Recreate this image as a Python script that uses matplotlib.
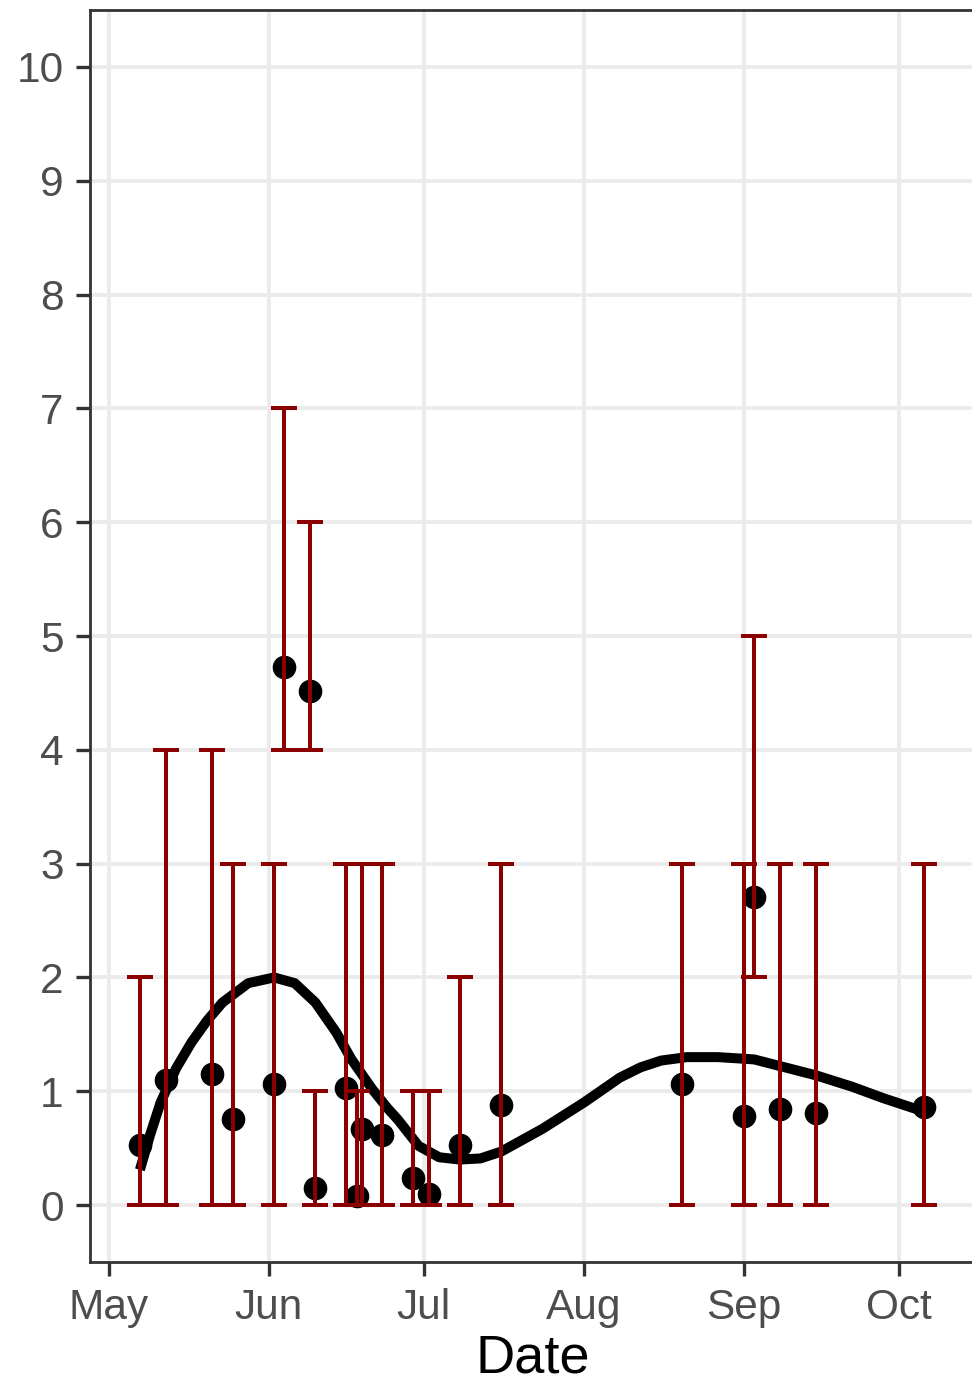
import matplotlib
matplotlib.use("Agg")
import matplotlib.pyplot as plt
import matplotlib.dates as mdates
import pandas as pd

# observations: date, mean, interval
obs_dates = ["2020-05-07", "2020-05-12", "2020-05-21", "2020-05-25", "2020-06-02",
             "2020-06-04", "2020-06-09", "2020-06-10", "2020-06-16", "2020-06-18",
             "2020-06-19", "2020-06-23", "2020-06-29", "2020-07-02", "2020-07-08",
             "2020-07-16", "2020-08-20", "2020-09-01", "2020-09-03", "2020-09-08",
             "2020-09-15", "2020-10-06"]
obs_mean = [0.53, 1.10, 1.15, 0.76, 1.06, 4.73, 4.52, 0.15, 1.03, 0.08,
            0.67, 0.62, 0.24, 0.10, 0.53, 0.88, 1.06, 0.78, 2.71, 0.84,
            0.81, 0.86]
obs_low = [0, 0, 0, 0, 0, 4, 4, 0, 0, 0, 0, 0, 0, 0, 0, 0, 0, 0, 2, 0, 0, 0]
obs_high = [2, 4, 4, 3, 3, 7, 6, 1, 3, 1, 3, 3, 1, 1, 2, 3, 3, 3, 5, 3, 3, 3]

# smoothed trend
trend_dates = ["2020-05-07", "2020-05-09", "2020-05-11", "2020-05-14", "2020-05-17",
               "2020-05-20", "2020-05-23", "2020-05-28", "2020-06-02", "2020-06-06",
               "2020-06-10", "2020-06-14", "2020-06-17", "2020-06-21", "2020-06-24",
               "2020-06-26", "2020-06-30", "2020-07-04", "2020-07-08", "2020-07-12",
               "2020-07-16", "2020-07-24", "2020-08-01", "2020-08-08", "2020-08-12",
               "2020-08-16", "2020-08-21", "2020-08-27", "2020-09-03", "2020-09-09",
               "2020-09-15", "2020-09-22", "2020-09-28", "2020-10-06"]
trend_vals = [0.31, 0.62, 0.90, 1.20, 1.43, 1.62, 1.78, 1.95, 2.00, 1.95,
              1.78, 1.52, 1.28, 1.02, 0.85, 0.75, 0.52, 0.42, 0.40, 0.41,
              0.47, 0.67, 0.90, 1.12, 1.21, 1.27, 1.30, 1.30, 1.28, 1.21,
              1.14, 1.04, 0.94, 0.82]

x = pd.to_datetime(obs_dates)
y = pd.Series(obs_mean)
lo = y - pd.Series(obs_low)
hi = pd.Series(obs_high) - y
tx = pd.to_datetime(trend_dates)

plt.rcParams["font.family"] = ["Liberation Sans", "DejaVu Sans"]

fig = plt.figure(figsize=(9.72, 13.89), dpi=100)
ax = fig.add_axes([90 / 972, 1 - 1262 / 1389, 886 / 972, 1252 / 1389])

ax.plot(tx, trend_vals, color="black", linewidth=7.2, solid_capstyle="butt",
        solid_joinstyle="round", zorder=3)
ax.plot(x, y, "o", color="black", markersize=16, zorder=4)
ax.errorbar(x, y, yerr=[lo, hi], fmt="none", ecolor="#8B0000",
            elinewidth=2.9, capsize=9.5, capthick=2.9, zorder=5)

ax.set_ylim(-0.5, 10.5)
ax.set_yticks(range(0, 11))
ax.set_xlim(pd.Timestamp("2020-04-27 08:00"), pd.Timestamp("2020-10-16"))
ax.xaxis.set_major_locator(mdates.MonthLocator())
ax.xaxis.set_major_formatter(mdates.DateFormatter("%b"))

ax.grid(True, color="#EBEBEB", linewidth=2.8, zorder=0)
ax.set_axisbelow(True)
for s in ax.spines.values():
    s.set_color("#333333")
    s.set_linewidth(2)

ax.tick_params(axis="both", colors="#333333", labelcolor="#4D4D4D",
               labelsize=30.5, length=10, width=2.4)
ax.tick_params(axis="y", pad=9)
ax.tick_params(axis="x", pad=9)
ax.set_xlabel("Date", fontsize=39, color="black", labelpad=4)

fig.savefig("out.png", dpi=100)
